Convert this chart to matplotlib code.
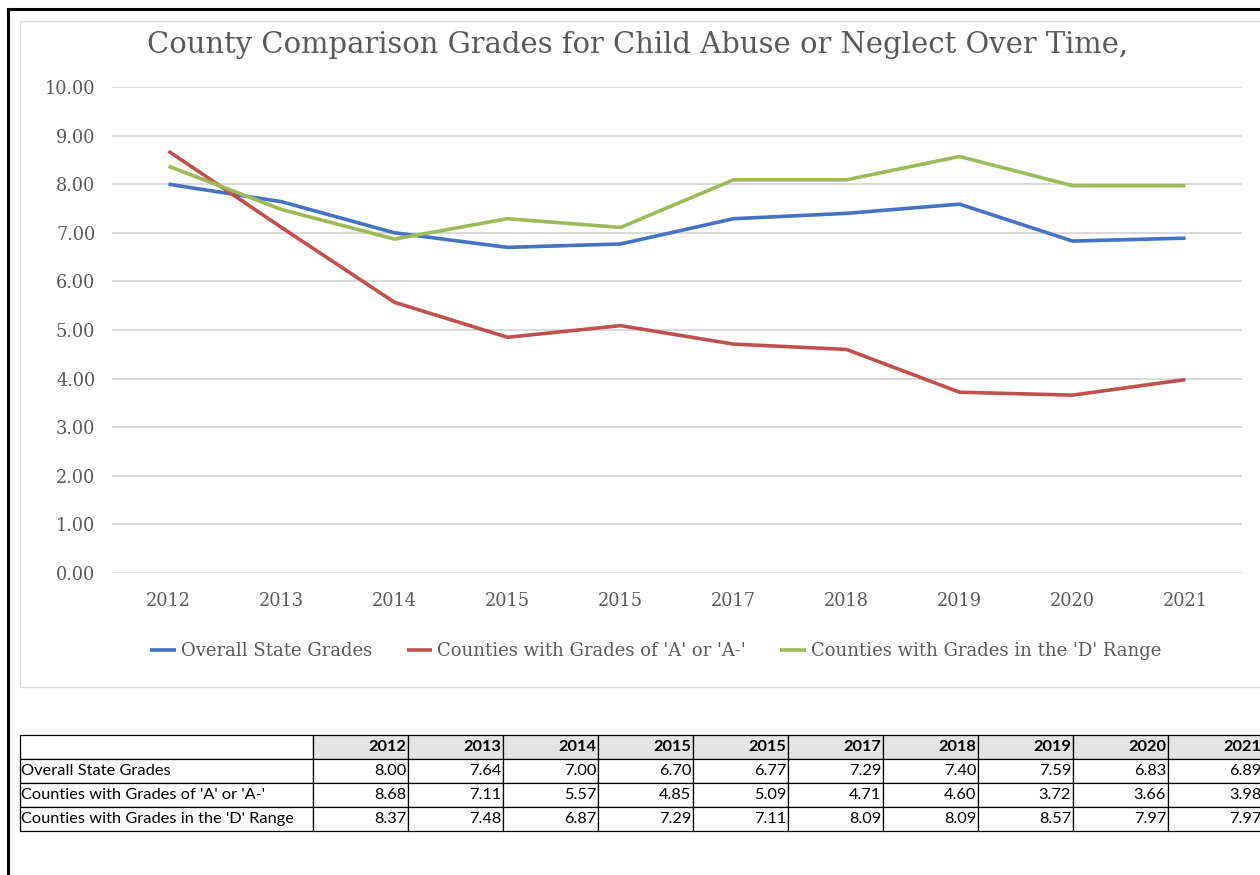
import matplotlib
matplotlib.use("Agg")
from matplotlib import pyplot as plt
from matplotlib.lines import Line2D
from matplotlib.patches import Rectangle

years = ["2012", "2013", "2014", "2015", "2015", "2017", "2018", "2019", "2020", "2021"]
overall = [8.00, 7.64, 7.00, 6.70, 6.77, 7.29, 7.40, 7.59, 6.83, 6.89]
grade_a = [8.68, 7.11, 5.57, 4.85, 5.09, 4.71, 4.60, 3.72, 3.66, 3.98]
grade_d = [8.37, 7.48, 6.87, 7.29, 7.11, 8.09, 8.09, 8.57, 7.97, 7.97]
series_names = ["Overall State Grades", "Counties with Grades of 'A' or 'A-'",
                "Counties with Grades in the 'D' Range"]
colors = ["#4472C4", "#C0504D", "#9BBB59"]

W, H = 1260, 875
fig = plt.figure(figsize=(W / 100, H / 100), dpi=100)
grey = "#595959"
serif = ["DejaVu Serif"]


def fx(px):
    return px / W


def fy(py):
    return 1 - py / H


# outer black frame (left + top only visible)
fig.add_artist(Line2D([fx(8), fx(8)], [fy(9), 0], color="black", lw=2.2))
fig.add_artist(Line2D([fx(8), 1.0], [fy(9), fy(9)], color="black", lw=2.2))
# chart area border
fig.add_artist(Rectangle((fx(20), fy(687)), fx(1245), fy(21) - fy(687),
                         transform=fig.transFigure, fill=False,
                         edgecolor="#D9D9D9", lw=1))

ax = fig.add_axes([fx(112), fy(573), fx(1242 - 112), fy(87) - fy(573)])
x = list(range(len(years)))
for vals, name, c in zip([overall, grade_a, grade_d], series_names, colors):
    ax.plot(x, vals, color=c, lw=2.6, label=name, solid_capstyle="butt")

ax.set_xlim(-0.5, len(years) - 0.5)
ax.set_ylim(0, 10)
ax.set_yticks(range(0, 11))
ax.set_yticklabels([f"{v:.2f}" for v in range(0, 11)])
ax.set_xticks(x)
ax.set_xticklabels(years)
ax.grid(axis="y", color="#D9D9D9", lw=1.4)
ax.set_axisbelow(True)
for s in ax.spines.values():
    s.set_visible(False)
ax.tick_params(length=0, colors=grey, labelsize=12.8)
ax.tick_params(axis="y", pad=12)
ax.tick_params(axis="x", pad=14)
for lab in ax.get_xticklabels() + ax.get_yticklabels():
    lab.set_family(serif)

fig.text(fx(638), fy(45), "County Comparison Grades for Child Abuse or Neglect Over Time,",
         ha="center", va="center", fontsize=20.9, color=grey, family=serif)

leg = fig.legend(loc="center", bbox_to_anchor=(fx(656), fy(651)), ncol=3, frameon=False,
                 handlelength=1.4, handletextpad=0.3, columnspacing=1.9,
                 prop={"family": serif, "size": 13})
for t in leg.get_texts():
    t.set_color(grey)

# data table below the chart
tab_ax = fig.add_axes([fx(20), fy(831), fx(1243), fy(735) - fy(831)])
tab_ax.axis("off")
cell_text = [[""] + years]
for name, vals in zip(series_names, [overall, grade_a, grade_d]):
    cell_text.append([name] + [f"{v:.2f}" for v in vals])
col_w = [293] + [95] * len(years)
tot = sum(col_w)
tbl = tab_ax.table(cellText=cell_text, colWidths=[w / tot for w in col_w],
                   bbox=[0, 0, 1, 1], cellLoc="right")
tbl.auto_set_font_size(False)
for (r, c), cell in tbl.get_celld().items():
    cell.set_edgecolor("black")
    cell.set_linewidth(0.9)
    txt = cell.get_text()
    txt.set_fontsize(11.8)
    txt.set_family(["Lato", "DejaVu Sans"])
    cell.PAD = 0.02
    if c == 0:
        txt.set_ha("left")
        cell.PAD = 0.005
    if r == 0 and c > 0:
        cell.set_facecolor("#E4E4E4")
        txt.set_weight("bold")

fig.savefig("out.png", dpi=100)
